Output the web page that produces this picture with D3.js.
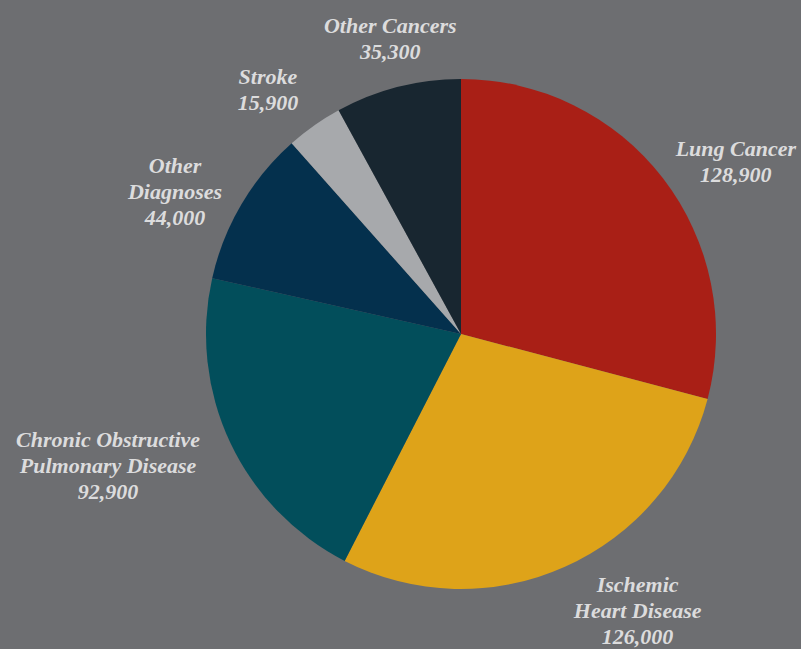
<!DOCTYPE html>
<html>
<head>
<meta charset="utf-8">
<script src="https://cdn.jsdelivr.net/npm/d3@7"></script>
<style>
  html, body { margin: 0; padding: 0; background: #6d6e71; }
  svg { display: block; }
</style>
</head>
<body>
<svg id="chart" width="801" height="649"></svg>
<script>
// data
const categories = ["Lung Cancer", "Ischemic Heart Disease", "Chronic Obstructive Pulmonary Disease", "Other Diagnoses", "Stroke", "Other Cancers"];
const deaths = [128900, 126000, 92900, 44000, 15900, 35300];
const labelLines = [
  ["Lung Cancer"],
  ["Ischemic", "Heart Disease"],
  ["Chronic Obstructive", "Pulmonary Disease"],
  ["Other", "Diagnoses"],
  ["Stroke"],
  ["Other Cancers"]
];
const colors = ["#a91f16", "#dea319", "#024e5b", "#04304d", "#a7a9ac", "#182630"];

const width = 801, height = 649;
const cx = 461, cy = 334, radius = 255;
const labelRadius = 318;
const lineGap = 26;

// nudges so label blocks sit where the original has them
const nudge = {
  "Lung Cancer": [23, 22],
  "Ischemic Heart Disease": [47, -13],
  "Chronic Obstructive Pulmonary Disease": [-65, -3],
  "Other Diagnoses": [-12, 19],
  "Stroke": [-10, 16],
  "Other Cancers": [8, 13]
};

const data = categories.map((c, i) => ({ name: c, value: deaths[i], lines: labelLines[i].concat([d3.format(",")(deaths[i])]), color: colors[i] }));

const pie = d3.pie().sort(null).value(d => d.value);
const arc = d3.arc().innerRadius(0).outerRadius(radius);
const labelArc = d3.arc().innerRadius(labelRadius).outerRadius(labelRadius);

const svg = d3.select("#chart");
const g = svg.append("g").attr("transform", `translate(${cx},${cy})`);

const arcs = pie(data);

g.selectAll("path")
  .data(arcs)
  .join("path")
    .attr("d", arc)
    .attr("fill", d => d.data.color);

const labels = g.selectAll("text.lbl")
  .data(arcs)
  .join("text")
    .attr("class", "lbl")
    .attr("text-anchor", "middle")
    .attr("font-family", "'Liberation Serif', 'DejaVu Serif', serif")
    .attr("font-style", "italic")
    .attr("font-weight", "bold")
    .attr("font-size", 22)
    .attr("fill", "#dcdcdd")
    .attr("transform", d => {
      const c = labelArc.centroid(d);
      const n = nudge[d.data.name];
      return `translate(${c[0] + n[0]},${c[1] + n[1]})`;
    });

labels.each(function(d) {
  const n = d.data.lines.length;
  d3.select(this).selectAll("tspan")
    .data(d.data.lines)
    .join("tspan")
      .attr("x", 0)
      .attr("y", (t, i) => (i - (n - 1) / 2) * lineGap + 7)
      .text(t => t);
});
</script>
</body>
</html>
